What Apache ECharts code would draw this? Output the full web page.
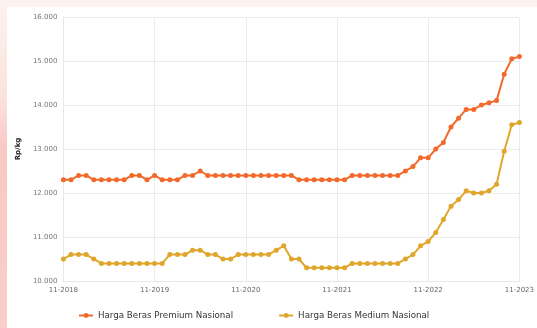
<!DOCTYPE html>
<html>
<head>
<meta charset="utf-8">
<script src="https://cdn.jsdelivr.net/npm/echarts@6/dist/echarts.min.js"></script>
<style>
    html, body { margin: 0; padding: 0; }
    body {
        width: 537px; height: 328px; overflow: hidden; position: relative;
        background: #fdf3ee;
    }
    #side {
        position: absolute; left: 0; top: 0; width: 8px; height: 328px;
        background: linear-gradient(to bottom, #fdf3ee 0%, #fbe2dc 30%, #f8c9c4 45%, #f9cfc9 100%);
    }
    #chart {
        position: absolute; left: 7px; top: 7px; width: 530px; height: 321px;
        background: #ffffff;
    }
</style>
</head>
<body>
<div id="side"></div>
<div id="chart"></div>
<script>
// bulan (Nov 2018 - Nov 2023)
var months = [];
for (var y = 2018; y <= 2023; y++) {
    var from = (y == 2018) ? 11 : 1;
    var to = (y == 2023) ? 11 : 12;
    for (var m = from; m <= to; m++) {
        months.push((m < 10 ? '0' + m : '' + m) + '-' + y);
    }
}
// label sumbu x hanya tiap November
var tickLabels = ['11-2018', '11-2019', '11-2020', '11-2021', '11-2022', '11-2023'];

var premium = [
    12300, 12300, 12400, 12400, 12300, 12300, 12300, 12300, 12300, 12400, 12400, 12300,
    12400, 12300, 12300, 12300, 12400, 12400, 12500, 12400, 12400, 12400, 12400, 12400,
    12400, 12400, 12400, 12400, 12400, 12400, 12400, 12300, 12300, 12300, 12300, 12300,
    12300, 12300, 12400, 12400, 12400, 12400, 12400, 12400, 12400, 12500, 12600, 12800,
    12800, 13000, 13150, 13500, 13700, 13900, 13900, 14000, 14050, 14100, 14700, 15050,
    15100
];
var medium = [
    10500, 10600, 10600, 10600, 10500, 10400, 10400, 10400, 10400, 10400, 10400, 10400,
    10400, 10400, 10600, 10600, 10600, 10700, 10700, 10600, 10600, 10500, 10500, 10600,
    10600, 10600, 10600, 10600, 10700, 10800, 10500, 10500, 10300, 10300, 10300, 10300,
    10300, 10300, 10400, 10400, 10400, 10400, 10400, 10400, 10400, 10500, 10600, 10800,
    10900, 11100, 11400, 11700, 11850, 12050, 12000, 12000, 12050, 12200, 12950, 13550,
    13600
];

var colorPremium = '#f26a2a';
var colorMedium = '#e0a62b';

function fmt(v) {
    return String(v).replace(/\B(?=(\d{3})+(?!\d))/g, '.');
}

function isTick(i, v) {
    return tickLabels.indexOf(v) >= 0;
}

function lineSeries(name, data, color) {
    return {
        name: name,
        type: 'line',
        data: data,
        symbol: 'circle',
        symbolSize: 5,
        showAllSymbol: true,
        lineStyle: { color: color, width: 2 },
        itemStyle: { color: color },
        emphasis: { disabled: true }
    };
}

var chart = echarts.init(document.getElementById('chart'), null, { renderer: 'canvas' });
chart.setOption({
    animation: false,
    textStyle: { fontFamily: 'DejaVu Sans' },
    grid: { left: 55, right: 16, top: 10, bottom: 47 },
    legend: {
        bottom: 3,
        left: 66,
        itemGap: 45,
        itemWidth: 14,
        itemHeight: 6,
        textStyle: { fontSize: 8.7, color: '#333' },
        data: ['Harga Beras Premium Nasional', 'Harga Beras Medium Nasional']
    },
    xAxis: {
        type: 'category',
        data: months,
        boundaryGap: false,
        axisLine: { lineStyle: { color: '#e8e8e8' } },
        axisTick: { show: false },
        axisLabel: { interval: isTick, fontSize: 7, color: '#666', margin: 6 },
        splitLine: { show: true, interval: isTick, lineStyle: { color: '#ebebeb' } }
    },
    yAxis: {
        type: 'value',
        min: 10000,
        max: 16000,
        interval: 1000,
        name: 'Rp/kg',
        nameLocation: 'middle',
        nameGap: 40,
        nameTextStyle: { fontSize: 7, fontWeight: 'bold', color: '#222' },
        axisLine: { show: true, lineStyle: { color: '#e8e8e8' } },
        axisTick: { show: false },
        axisLabel: { fontSize: 7, color: '#777', margin: 6, formatter: fmt },
        splitLine: { lineStyle: { color: '#ebebeb' } }
    },
    series: [
        lineSeries('Harga Beras Premium Nasional', premium, colorPremium),
        lineSeries('Harga Beras Medium Nasional', medium, colorMedium)
    ]
});
</script>
</body>
</html>
